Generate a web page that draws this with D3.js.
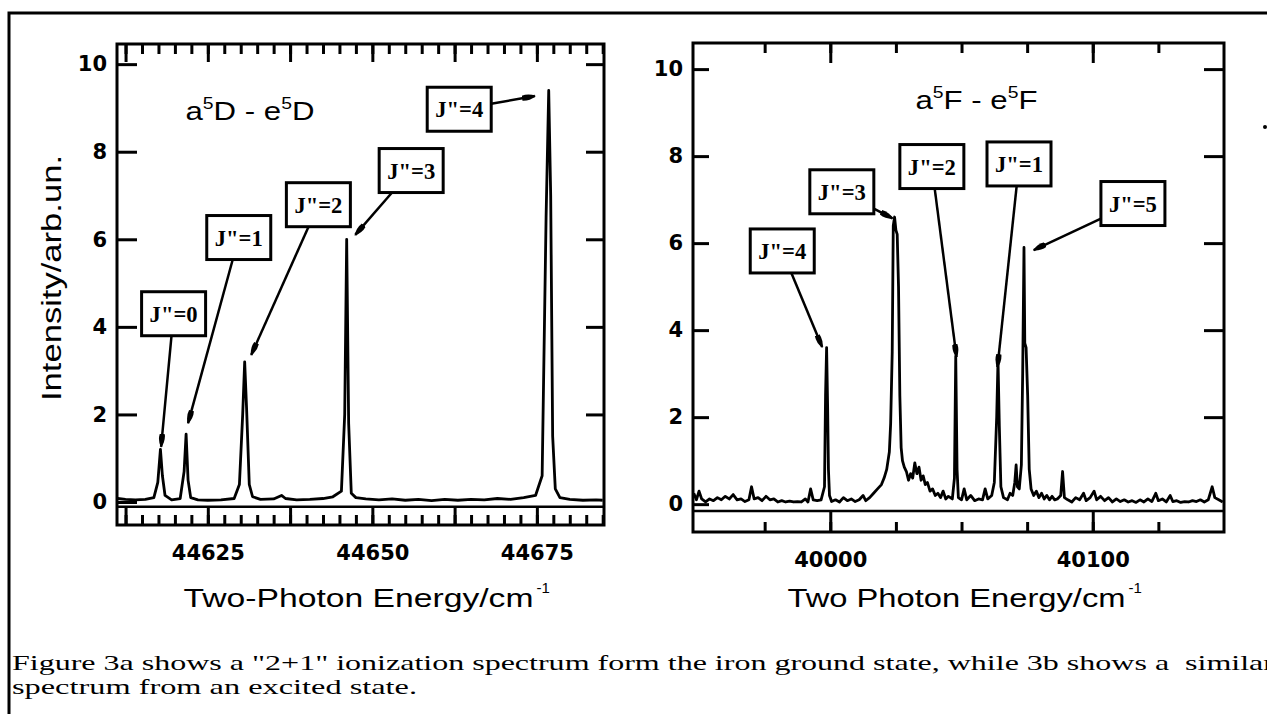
<!DOCTYPE html>
<html>
<head>
<meta charset="utf-8">
<script src="https://d3js.org/d3.v7.min.js"></script>
<style>
body{margin:0;background:#fff;}
svg{display:block;}
.tick text{font-family:"DejaVu Sans",sans-serif;font-weight:bold;font-size:21px;fill:#000;}
.tick line{stroke:#000;stroke-width:3;}
.sans{font-family:"Liberation Sans",Arial,sans-serif;fill:#000;}
.serif{font-family:"Liberation Serif","Times New Roman",serif;fill:#000;white-space:pre;}
</style>
</head>
<body>
<svg id="fig" width="1267" height="716"></svg>
<script>
// ---- panel a : a5D - e5D (ground state) ----
var energyA = [44611.3,44612.5,44614.0,44615.5,44616.8,44617.4,44617.8,44618.1,44618.5,44619.5,
    44620.8,44621.4,44621.7,44622.0,44622.4,44623.5,44625.0,44627.0,44629.0,44629.8,
    44630.3,44630.6,44630.9,44631.3,44631.8,44633.0,44635.0,44636.2,44636.8,44638.5,
    44640.5,44642.5,44644.0,44645.3,44645.8,44646.1,44646.4,44646.8,44647.5,44649.0,
    44651.0,44653.0,44655.0,44657.0,44659.0,44661.0,44663.0,44665.0,44667.0,44669.0,
    44671.0,44673.0,44674.8,44675.8,44676.4,44676.8,44677.1,44677.4,44677.8,44678.5,
    44680.0,44682.0,44684.0,44685.0]
var intensityA = [0.08,0.06,0.05,0.06,0.10,0.45,1.20,0.60,0.15,0.05,
    0.08,0.70,1.55,0.50,0.10,0.05,0.04,0.05,0.08,0.40,
    2.00,3.20,2.10,0.40,0.12,0.06,0.07,0.15,0.08,0.05,
    0.06,0.08,0.12,0.25,2.00,6.00,1.80,0.20,0.10,0.07,
    0.05,0.07,0.04,0.06,0.03,0.06,0.04,0.06,0.05,0.08,
    0.06,0.10,0.15,0.60,6.50,9.40,7.00,1.50,0.30,0.10,
    0.06,0.04,0.05,0.04]
var xLabelsA = [44625,44650,44675]
var peakNamesA = ['J"=0','J"=1','J"=2','J"=3','J"=4']
var peakTipsA = [[44617.9,1.26],[44622.0,1.80],[44631.6,3.36],[44647.4,6.10],[44674.7,9.27]]

// ---- panel b : a5F - e5F (excited state) ----
var energyB = [39948,39949,39950,39951,39952.5,39954,39955.5,39957,39958.5,39960,
    39961.5,39963,39964.5,39966,39967.5,39969,39970,39971,39972.5,39974,
    39975.5,39977,39978.5,39980,39981.5,39983,39984.5,39986,39987.5,39989,
    39990.5,39991.5,39992.5,39993.5,39995,39996.5,39997.8,39998.2,39998.6,39999.0,
    39999.3,39999.7,40000.5,40002,40003.5,40005,40006.5,40008,40009.5,40011,
    40012.5,40013.5,40015,40016.5,40018,40019.5,40020.5,40021.5,40022.5,40023.0,
    40023.6,40024.0,40024.5,40025.0,40025.5,40026.0,40026.5,40027.0,40027.5,40028.2,
    40029.0,40029.8,40030.6,40031.4,40032.2,40033.0,40033.8,40034.6,40035.4,40036.2,
    40037.0,40038.0,40039.0,40040.0,40041.0,40042.0,40043.0,40044.0,40045.0,40046.5,
    40047.3,40047.8,40048.3,40048.8,40050,40051,40052,40053.5,40055,40056.5,
    40058,40059,40060,40061.5,40062.5,40063.4,40063.9,40064.4,40065,40066,
    40067.5,40068.5,40069.5,40070.3,40070.8,40071.3,40072.0,40072.8,40073.3,40073.8,
    40074.1,40074.6,40075.2,40075.8,40076.5,40077.5,40078.5,40079.5,40080.5,40081.5,
    40082.5,40083.5,40084.5,40085.5,40086.5,40087.8,40088.5,40089.2,40090.5,40092,
    40093.5,40095,40096.5,40097.5,40099,40100.5,40101.5,40103,40104.5,40106,
    40107.5,40109,40110.5,40112,40113.5,40115,40116.5,40118,40119.5,40121,
    40122.5,40124,40125,40126.5,40128,40129.5,40130.5,40132,40133.5,40135,
    40136.5,40138,40139.5,40141,40142.5,40144,40145.5,40146.5,40148,40149.5]
var intensityB = [0.25,0.10,0.30,0.12,0.05,0.12,0.08,0.15,0.10,0.18,
    0.12,0.22,0.10,0.12,0.06,0.10,0.40,0.12,0.15,0.08,
    0.18,0.10,0.12,0.05,0.08,0.05,0.07,0.05,0.06,0.05,
    0.12,0.05,0.35,0.10,0.08,0.10,0.40,2.50,3.60,2.20,
    0.80,0.20,0.06,0.10,0.05,0.15,0.08,0.12,0.06,0.10,
    0.20,0.08,0.15,0.25,0.35,0.45,0.60,0.80,1.20,1.85,
    3.50,6.40,6.60,6.30,6.20,5.00,2.50,1.30,1.00,0.85,
    0.75,0.55,0.70,0.60,0.95,0.70,0.85,0.55,0.65,0.45,
    0.50,0.30,0.35,0.20,0.25,0.15,0.30,0.12,0.18,0.12,
    0.60,3.40,0.80,0.15,0.10,0.35,0.10,0.20,0.08,0.12,
    0.10,0.35,0.12,0.20,0.50,2.00,3.30,1.80,0.40,0.15,
    0.10,0.25,0.20,0.50,0.90,0.40,0.35,0.90,3.00,5.90,
    3.70,3.60,2.50,0.80,0.35,0.20,0.30,0.15,0.25,0.12,
    0.20,0.10,0.18,0.10,0.12,0.20,0.75,0.15,0.10,0.05,
    0.15,0.10,0.25,0.08,0.15,0.30,0.10,0.18,0.08,0.15,
    0.05,0.12,0.06,0.10,0.05,0.08,0.04,0.10,0.05,0.12,
    0.06,0.25,0.08,0.12,0.05,0.20,0.06,0.08,0.04,0.06,
    0.05,0.08,0.06,0.10,0.05,0.10,0.40,0.15,0.10,0.05]
var xLabelsB = [40000,40100]
var peakNamesB = ['J"=4','J"=3','J"=2','J"=1','J"=5']
var peakTipsB = [[39996.9,3.61],[40023.7,6.57],[40048.1,3.38],[40063.7,3.15],[40077.5,5.84]]

var yTicks = [0,2,4,6,8,10]

var captionLines = [
    'Figure 3a shows a "2+1" ionization spectrum form the iron ground state, while 3b shows a  similar',
    'spectrum from an excited state.']

// layout of both panels (pixels) and where the label boxes sit (data units)
var panelA = {
    left:117, right:604, top:44, bottom:525,
    xDomain:[44611.2,44685.2], yDomain:[-0.525,10.46], band:-0.11,
    minor:d3.range(44612.5,44685.2,2.5), major:d3.range(44612.5,44685.2,12.5),
    topMinor:10, topMajor:18, botMinor:10, botMajor:18, leftTick:20, rightTick:18,
    energy:energyA, intensity:intensityA, xLabels:xLabelsA,
    names:peakNamesA, tips:peakTipsA,
    boxes:[[44619.8,4.30],[44629.7,6.04],[44641.8,6.79],[44655.9,7.57],[44663.2,8.97]],
    title:[["a",0],["5",1],["D - e",0],["5",1],["D",0]], titleAt:[44631.4,8.72],
    xTitle:"Two-Photon Energy/cm", xTitleLen:350, yTitle:"Intensity/arb.un."
}
var panelB = {
    left:693, right:1224, top:43, bottom:532,
    xDomain:[39947.7,40150], yDomain:[-0.64,10.6], band:-0.16,
    minor:d3.range(39975,40150,25), major:[40000,40100],
    topMinor:10, topMajor:20, botMinor:10, botMajor:21, leftTick:16, rightTick:20,
    energy:energyB, intensity:intensityB, xLabels:xLabelsB,
    names:peakNamesB, tips:peakTipsB,
    boxes:[[39981.7,5.82],[40004.4,7.18],[40038.7,7.76],[40071.9,7.82],[40115.3,6.91]],
    title:[["a",0],["5",1],["F - e",0],["5",1],["F",0]], titleAt:[40055.7,9.08],
    xTitle:"Two Photon Energy/cm", xTitleLen:338, yTitle:null
}

var svg = d3.select("#fig")

svg.append("defs").append("marker")
    .attr("id","arrow")
    .attr("viewBox","0 0 14 8")
    .attr("refX",13).attr("refY",4)
    .attr("markerWidth",14).attr("markerHeight",8)
    .attr("markerUnits","userSpaceOnUse")
    .attr("orient","auto")
    .append("path")
    .attr("d","M0,1.5 Q7,0 14,4 Q7,8 0,6.5 Z")
    .attr("fill","#000")

//text with superscripts, parts = [[string, isSuper],...]
var addRich = function(parent, parts, size)
{
    var t = parent.append("text").classed("sans",true)
        .attr("font-size",size).attr("text-anchor","middle")
    var up = false
    parts.forEach(function(p)
    {
        var s = t.append("tspan").text(p[0])
            .attr("font-size", p[1] ? size*0.62 : size)
        if(p[1] && !up) {s.attr("dy",-size*0.42); up = true}
        else if(!p[1] && up) {s.attr("dy",size*0.42); up = false}
    })
    return t
}

var drawPanel = function(cfg)
{
    var xScale = d3.scaleLinear().domain(cfg.xDomain).range([cfg.left,cfg.right])
    var yScale = d3.scaleLinear().domain(cfg.yDomain).range([cfg.bottom,cfg.top])

    var g = svg.append("g")
    var noDomain = function(a){a.select(".domain").remove()}

    //the ruler line just under the zero level
    g.append("line")
        .attr("x1",cfg.left).attr("x2",cfg.right)
        .attr("y1",yScale(cfg.band)).attr("y2",yScale(cfg.band))
        .attr("stroke","#000").attr("stroke-width",2.5)

    //bottom ticks point up, top ticks point down
    g.append("g").attr("transform","translate(0,"+cfg.bottom+")")
        .call(d3.axisBottom(xScale).tickValues(cfg.minor).tickSize(-cfg.botMinor).tickSizeOuter(0).tickFormat(""))
        .call(noDomain)
    g.append("g").attr("transform","translate(0,"+cfg.bottom+")")
        .call(d3.axisBottom(xScale).tickValues(cfg.major).tickSize(-cfg.botMajor).tickSizeOuter(0).tickFormat(""))
        .call(noDomain)
    g.append("g").attr("transform","translate(0,"+cfg.bottom+")")
        .call(d3.axisBottom(xScale).tickValues(cfg.xLabels).tickSize(0).tickPadding(20).tickFormat(d3.format("d")))
        .call(noDomain)
    g.append("g").attr("transform","translate(0,"+cfg.top+")")
        .call(d3.axisTop(xScale).tickValues(cfg.minor).tickSize(-cfg.topMinor).tickSizeOuter(0).tickFormat(""))
        .call(noDomain)
    g.append("g").attr("transform","translate(0,"+cfg.top+")")
        .call(d3.axisTop(xScale).tickValues(cfg.major).tickSize(-cfg.topMajor).tickSizeOuter(0).tickFormat(""))
        .call(noDomain)

    g.append("g").attr("transform","translate("+cfg.left+",0)")
        .call(d3.axisLeft(yScale).tickValues(yTicks).tickSize(-cfg.leftTick).tickSizeOuter(0).tickPadding(10).tickFormat(d3.format("d")))
        .call(noDomain)
    g.append("g").attr("transform","translate("+cfg.right+",0)")
        .call(d3.axisRight(yScale).tickValues(yTicks.slice(1)).tickSize(-cfg.rightTick).tickSizeOuter(0).tickFormat(""))
        .call(noDomain)

    //spectrum
    var line = d3.line()
        .x(function(d){return xScale(d[0])})
        .y(function(d){return yScale(d[1])})
    g.append("path")
        .datum(d3.zip(cfg.energy,cfg.intensity))
        .attr("d",line)
        .attr("fill","none").attr("stroke","#000")
        .attr("stroke-width",2.8).attr("stroke-linejoin","round")

    //frame
    g.append("rect")
        .attr("x",cfg.left).attr("y",cfg.top)
        .attr("width",cfg.right-cfg.left).attr("height",cfg.bottom-cfg.top)
        .attr("fill","none").attr("stroke","#000").attr("stroke-width",3)

    //label boxes with arrows
    var hw = 32, hh = 22
    cfg.names.forEach(function(name,i)
    {
        var cx = xScale(cfg.boxes[i][0]), cy = yScale(cfg.boxes[i][1])
        var tx = xScale(cfg.tips[i][0]), ty = yScale(cfg.tips[i][1])
        var dx = tx-cx, dy = ty-cy
        var t = Math.min(hw/Math.abs(dx||1e-6), hh/Math.abs(dy||1e-6))
        g.append("line")
            .attr("x1",cx+t*dx).attr("y1",cy+t*dy)
            .attr("x2",tx).attr("y2",ty)
            .attr("stroke","#000").attr("stroke-width",2.5)
            .attr("marker-end","url(#arrow)")
        g.append("rect")
            .attr("x",cx-hw).attr("y",cy-hh)
            .attr("width",2*hw).attr("height",2*hh)
            .attr("fill","#fff").attr("stroke","#000").attr("stroke-width",3)
        g.append("text").classed("serif",true)
            .attr("x",cx).attr("y",cy+8)
            .attr("text-anchor","middle")
            .attr("font-size",24).attr("font-weight","bold")
            .attr("textLength",48).attr("lengthAdjust","spacingAndGlyphs")
            .text(name)
    })

    //panel title
    var tg = g.append("g")
        .attr("transform","translate("+xScale(cfg.titleAt[0])+","+yScale(cfg.titleAt[1])+") scale(1.2,1)")
    addRich(tg,cfg.title,26)

    //axis titles
    var mid = (cfg.left+cfg.right)/2
    g.append("text").classed("sans",true)
        .attr("x",mid-2).attr("y",607)
        .attr("text-anchor","middle").attr("font-size",25)
        .attr("textLength",cfg.xTitleLen).attr("lengthAdjust","spacingAndGlyphs")
        .text(cfg.xTitle)
    g.append("text").classed("sans",true)
        .attr("x",mid-2+cfg.xTitleLen/2+3).attr("y",593)
        .attr("font-size",15)
        .text("-1")

    if(cfg.yTitle)
    {
        g.append("text").classed("sans",true)
            .attr("transform","translate(61,278) rotate(-90)")
            .attr("text-anchor","middle").attr("font-size",27)
            .attr("textLength",246).attr("lengthAdjust","spacingAndGlyphs")
            .text(cfg.yTitle)
    }
}

//outer frame of the figure
svg.append("path")
    .attr("d","M1270,13 L9,13 L9,714")
    .attr("fill","none").attr("stroke","#000").attr("stroke-width",3)

drawPanel(panelA)
drawPanel(panelB)

svg.append("circle").attr("cx",1265).attr("cy",127).attr("r",2).attr("fill","#000")

//caption
var capLengths = [1262,405]
captionLines.forEach(function(txt,i)
{
    svg.append("text").classed("serif",true)
        .attr("x",12).attr("y",670+i*24)
        .attr("font-size",22)
        .attr("textLength",capLengths[i]).attr("lengthAdjust","spacingAndGlyphs")
        .text(txt)
})
</script>
</body>
</html>
